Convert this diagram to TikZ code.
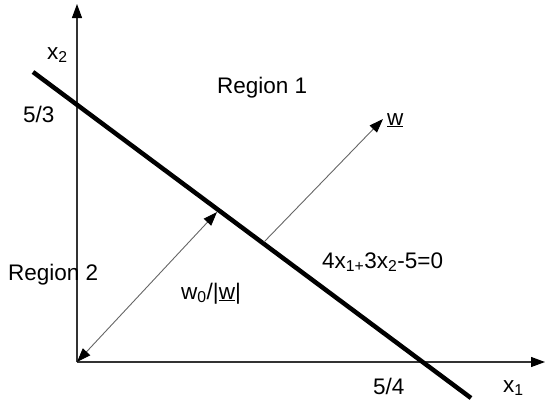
\documentclass[tikz,border=0pt]{standalone}
\usepackage{fontspec}
\setmainfont{Liberation Sans}
\usetikzlibrary{arrows.meta}

\begin{document}
\begin{tikzpicture}[
        x=1pt, y=-1pt,
        % ----- 全局样式 -----
        >={Triangle[length=14pt, width=10pt, color=black]},
        axis/.style={->, line width=1.1pt, draw=black!80},
        border/.style={line width=4.5pt, draw=black},
        vec/.style={->, line width=0.9pt, draw=black!60},
        lbl/.style={font=\fontsize{22.5}{26}\selectfont, inner sep=0pt, anchor=base west}
    ]
    \useasboundingbox (0,0) rectangle (545,402);

    % ----- 坐标 -----
    \coordinate (O) at (77,362);
    \coordinate (xend) at (545,362);
    \coordinate (yend) at (77,4);
    \coordinate (la) at (33,72);
    \coordinate (lb) at (471,398);
    \coordinate (foot) at (217,212);
    \coordinate (ws) at (264,242);
    \coordinate (we) at (383,119);

    % ----- 坐标轴 -----
    \draw[axis] (O) -- (xend);
    \draw[axis] (O) -- (yend);

    % ----- 决策边界 -----
    \draw[border] (la) -- (lb);

    % ----- 向量 -----
    \draw[vec] (ws) -- (we);
    \draw[vec, <->] (O) -- (foot);

    % ----- 标签 -----
    \node[lbl] (x2) at (47,59) {x\textsubscript{2}};
    \node[lbl] (x1) at (503,392) {x\textsubscript{1}};
    \node[lbl] (a2) at (23,122) {5/3};
    \node[lbl] (a1) at (373,394) {5/4};
    \node[lbl] (reg1) at (217,93) {Region 1};
    \node[lbl] (reg2) at (8,280) {Region 2};
    \node[lbl] (wlab) at (387,125) {\underline{w}};
    \node[lbl] (dist) at (181,299) {w\textsubscript{0}/|\underline{w}|};
    \node[lbl] (eq) at (322,268) {4x\textsubscript{1+}3x\textsubscript{2}-5=0};
\end{tikzpicture}
\end{document}
